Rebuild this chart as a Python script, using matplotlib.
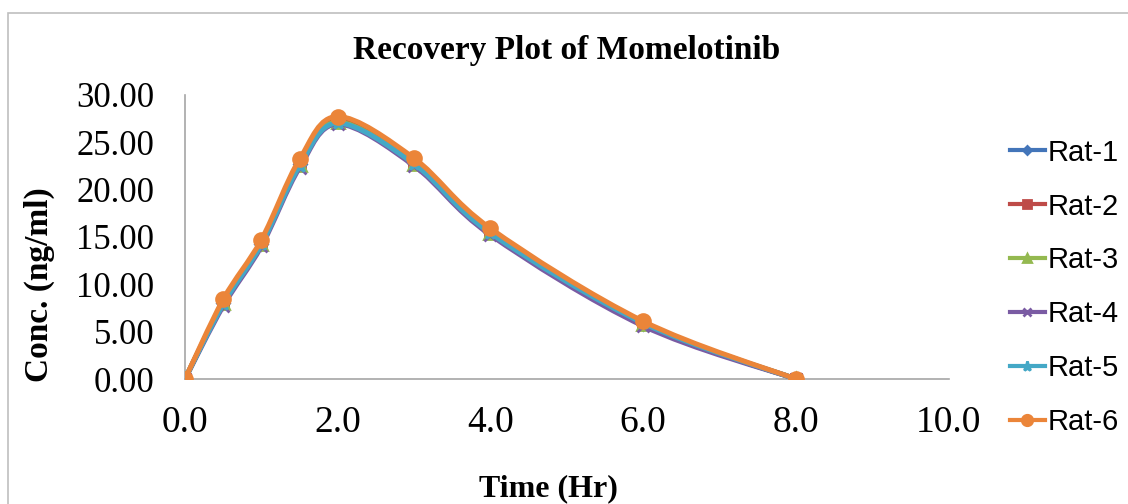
import numpy as np
import matplotlib.pyplot as plt
from matplotlib.path import Path
from matplotlib.patches import PathPatch, Rectangle
from matplotlib.lines import Line2D

# sampling times (hr) and recovered concentration (ng/ml) per rat
time = [0, 0.5, 1, 1.5, 2, 3, 4, 6, 8]
rat1 = [0, 8.0, 14.3, 22.7, 27.2, 22.8, 15.5, 5.8, 0]
rat2 = [0, 8.1, 14.4, 22.8, 27.3, 22.9, 15.6, 5.9, 0]
rat3 = [0, 8.0, 14.3, 22.6, 27.1, 22.7, 15.4, 5.8, 0]
rat4 = [0, 7.7, 14.0, 22.3, 26.9, 22.5, 15.2, 5.6, 0]
rat5 = [0, 7.9, 14.2, 22.5, 27.0, 22.7, 15.4, 5.9, 0]
rat6 = [0, 8.4, 14.7, 23.2, 27.7, 23.3, 15.9, 6.1, 0]

names = ['Rat-1', 'Rat-2', 'Rat-3', 'Rat-4', 'Rat-5', 'Rat-6']
series = [rat1, rat2, rat3, rat4, rat5, rat6]
colors = ['#4375B9', '#BE4B48', '#94B950', '#7A5BA3', '#44A8C6', '#EB8539']
markers = ['D', 's', '^', 'x', '*', 'o']
msizes = [6, 7, 8, 8, 9, 10]

serif = 'Liberation Serif'


def smooth_path(x, y):
    # excel-style smoothed line: cubic bezier through the points
    pts = np.column_stack([x, y]).astype(float)
    n = len(pts)
    verts = [pts[0]]
    codes = [Path.MOVETO]
    for i in range(n - 1):
        p0 = pts[max(i - 1, 0)]
        p1 = pts[i]
        p2 = pts[i + 1]
        p3 = pts[min(i + 2, n - 1)]
        c1 = p1 + (p2 - p0) / 6
        c2 = p2 - (p3 - p1) / 6
        verts += [c1, c2, p2]
        codes += [Path.CURVE4] * 3
    return Path(verts, codes)


fig = plt.figure(figsize=(11.28, 5.04), dpi=100)
ax = fig.add_axes([0.164, 0.248, 0.677, 0.564])

for k, (y, c) in enumerate(zip(series, colors)):
    ax.add_patch(PathPatch(smooth_path(time, y), fill=False, edgecolor=c,
                           lw=3.6, capstyle='round', joinstyle='round', zorder=2 + k))
    ax.plot(time, y, ls='none', marker=markers[k], ms=msizes[k], color=c,
            mec=c, mew=2, zorder=2.5 + k)

ax.set_xlim(0, 10)
ax.set_ylim(0, 30)
ax.set_xticks(np.arange(0, 10.1, 2))
ax.set_yticks(np.arange(0, 30.1, 5))
ax.set_xticklabels([f'{v:.1f}' for v in np.arange(0, 10.1, 2)], fontsize=27, family=serif)
ax.set_yticklabels([f'{v:.2f}' for v in np.arange(0, 30.1, 5)], fontsize=25, family=serif)
ax.tick_params(axis='both', length=0)
ax.tick_params(axis='x', pad=19)
ax.tick_params(axis='y', pad=22)

for s in ['top', 'right']:
    ax.spines[s].set_visible(False)
for s in ['left', 'bottom']:
    ax.spines[s].set_color('#A6A6A6')
    ax.spines[s].set_linewidth(1.2)

ax.set_title('Recovery Plot of Momelotinib', fontsize=24, family=serif,
             fontweight='bold', pad=26)
ax.set_xlabel('Time (Hr)', fontsize=23, family=serif, fontweight='bold')
ax.xaxis.set_label_coords(0.476, -0.335)
ax.set_ylabel('Conc. (ng/ml)', fontsize=24, family=serif, fontweight='bold')
ax.yaxis.set_label_coords(-0.17, 0.331)

handles = [Line2D([], [], color=c, lw=3, marker=m, ms=ms * 0.75, mew=2)
           for c, m, ms in zip(colors, markers, msizes)]
ax.legend(handles, names, loc='center left', bbox_to_anchor=(1.080, 0.322),
          frameon=False, prop={'family': 'Liberation Sans', 'size': 21},
          handlelength=1.2, handletextpad=0.1, labelspacing=0.89,
          borderpad=0, borderaxespad=0)

fig.add_artist(Rectangle((8 / 1128, -0.1), 1.1, 1.1 - 13 / 504,
                         transform=fig.transFigure, fill=False,
                         edgecolor='#BFBFBF', lw=1.2))

fig.savefig('out.png', dpi=100)
